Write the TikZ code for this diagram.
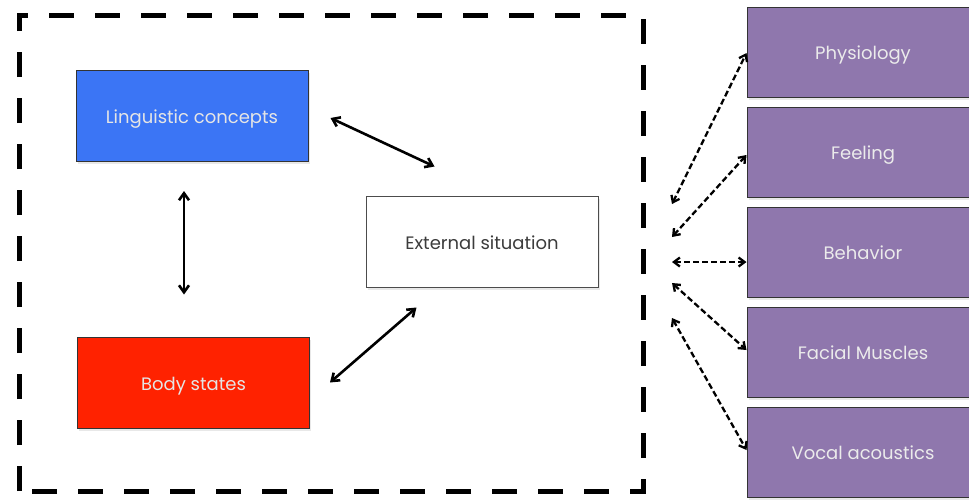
\documentclass[tikz,border=0pt]{standalone}
\usepackage{fontspec}
\setmainfont{Poppins}
\usetikzlibrary{arrows.meta,shadows,calc}
\definecolor{lingblue}{RGB}{59,117,245}
\definecolor{bodyred}{RGB}{255,34,0}
\definecolor{outpurple}{RGB}{143,119,173}
\definecolor{txtgray}{RGB}{60,60,60}
\tikzset{
  box/.style={draw=black!80, line width=1pt, minimum width=232pt, minimum height=91pt, inner sep=0pt,
    text height=15pt, text depth=0pt,
    font=\fontsize{18}{20}\selectfont, drop shadow={opacity=0.18, shadow xshift=1.5pt, shadow yshift=-2.5pt}},
  coloured/.style={box, text=white!90!black},
  outbox/.style={box, fill=outpurple, text=white!92!black, minimum height=90pt},
  solidarrow/.style={{Straight Barb[length=7pt,width=10pt]}-{Straight Barb[length=7pt,width=10pt]}, line width=2.6pt, black},
  dasharrow/.style={{Straight Barb[length=6pt,width=9pt]}-{Straight Barb[length=6pt,width=9pt]}, line width=2.3pt, black, dash pattern=on 6pt off 3pt},
  frame/.style={draw=black, line width=5pt, dash pattern=on 25pt off 21pt, dash phase=0pt}
}
\begin{document}
\begin{tikzpicture}[x=1pt,y=-1pt]
\useasboundingbox (0,0) rectangle (969,499);
\fill[white] (0,0) rectangle (969,499);
% dashed frame
\draw[frame] (19,491) -- (19,15) -- (643,15) -- (643,491) -- cycle;
% left boxes
\node[coloured, fill=lingblue] (ling) at (192,116) {Linguistic concepts};
\node[coloured, fill=bodyred] (body) at (193.5,382.5) {Body states};
\node[box, fill=white, draw=black!70, text=txtgray] (ext) at (482,241.5) {External situation};
% right boxes
\node[outbox] (phys) at (863,52) {Physiology};
\node[outbox] (feel) at (863,152) {Feeling};
\node[outbox] (behav) at (863,252) {Behavior};
\node[outbox] (face) at (863,352) {Facial Muscles};
\node[outbox] (voc) at (863,452) {Vocal acoustics};
% free ends of the dashed arrows
\coordinate (e1) at (672,204);
\coordinate (e2) at (672,237);
\coordinate (e3) at (672,262);
\coordinate (e4) at (672,283);
\coordinate (e5) at (672,318);
% solid arrows
\draw[solidarrow] ($(ling.east)+(22,2)$) -- ($(ext.north west)+(69,-29)$);
\draw[solidarrow] ($(ling.south)+(-8,29)$) -- ($(body.north)+(-9.5,-42)$);
\draw[solidarrow] ($(body.east)+(20,0)$) -- ($(ext.south west)+(51,20)$);
% dashed arrows
\draw[dasharrow] (e1) -- ($(phys.west)+(0,1)$);
\draw[dasharrow] (e2) -- ($(feel.west)+(0,3)$);
\draw[dasharrow] (e3) -- ($(behav.west)+(0,10)$);
\draw[dasharrow] (e4) -- ($(face.west)+(0,-2)$);
\draw[dasharrow] (e5) -- ($(voc.west)+(0,-2)$);
\end{tikzpicture}
\end{document}
